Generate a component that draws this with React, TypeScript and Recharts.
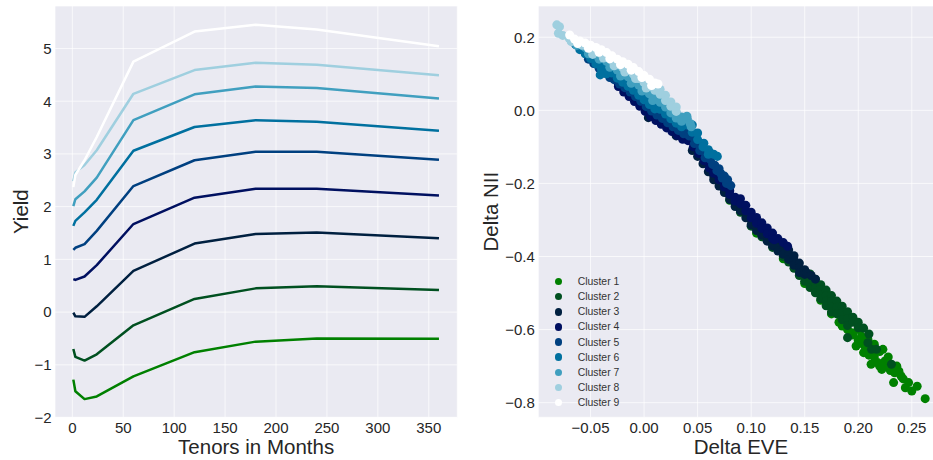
import React from 'react';
import {
  LineChart, Line, XAxis, YAxis, CartesianGrid,
  ScatterChart, Scatter, ZAxis, Legend,
} from 'recharts';

// ---------- Left panel data: yield curves ----------
const tenors = [1, 3, 12, 24, 60, 120, 180, 240, 360];
const curve1 = [-1.28, -1.50, -1.65, -1.60, -1.22, -0.76, -0.56, -0.50, -0.505];
const curve2 = [-0.70, -0.85, -0.92, -0.80, -0.25, 0.25, 0.45, 0.49, 0.42];
const curve3 = [-0.01, -0.08, -0.09, 0.11, 0.78, 1.30, 1.48, 1.51, 1.40];
const curve4 = [0.625, 0.61, 0.675, 0.89, 1.67, 2.17, 2.34, 2.34, 2.21];
const curve5 = [1.18, 1.22, 1.29, 1.54, 2.39, 2.88, 3.04, 3.04, 2.89];
const curve6 = [1.635, 1.73, 1.89, 2.13, 3.06, 3.51, 3.64, 3.61, 3.44];
const curve7 = [2.01, 2.14, 2.29, 2.55, 3.64, 4.13, 4.28, 4.25, 4.05];
const curve8 = [2.48, 2.65, 2.79, 3.07, 4.14, 4.59, 4.73, 4.69, 4.49];
const curve9 = [2.37, 2.60, 2.88, 3.32, 4.75, 5.32, 5.45, 5.36, 5.04];
const curves = [curve1, curve2, curve3, curve4, curve5, curve6, curve7, curve8, curve9];

const leftXTicks = [0, 50, 100, 150, 200, 250, 300, 350];
const leftYTicks = [-2, -1, 0, 1, 2, 3, 4, 5];

// ---------- Right panel data: Delta EVE (x) vs Delta NII (y) ----------
const cluster1 = [
  [0.080, -0.246], [0.105, -0.336], [0.130, -0.406], [0.150, -0.474], [0.165, -0.520], [0.175, -0.557],
  [0.182, -0.580], [0.185, -0.590], [0.190, -0.600], [0.194, -0.609], [0.195, -0.615], [0.198, -0.645],
  [0.200, -0.600], [0.200, -0.630], [0.203, -0.618], [0.205, -0.663], [0.205, -0.640], [0.206, -0.645],
  [0.209, -0.627], [0.210, -0.650], [0.210, -0.670], [0.212, -0.663], [0.212, -0.695], [0.215, -0.640],
  [0.215, -0.675], [0.218, -0.690], [0.220, -0.660], [0.220, -0.700], [0.222, -0.709], [0.223, -0.654],
  [0.225, -0.686], [0.228, -0.700], [0.228, -0.675], [0.230, -0.712], [0.233, -0.745], [0.234, -0.718],
  [0.236, -0.700], [0.238, -0.714], [0.240, -0.727], [0.242, -0.735], [0.244, -0.759], [0.247, -0.745],
  [0.250, -0.768], [0.255, -0.755], [0.2625, -0.789],
];
const cluster2 = [
  [0.090, -0.279], [0.100, -0.317], [0.110, -0.346], [0.120, -0.375],
  [0.130, -0.400], [0.135, -0.415], [0.140, -0.432], [0.145, -0.452], [0.150, -0.468],
  [0.155, -0.448], [0.155, -0.461], [0.155, -0.474], [0.155, -0.485],
  [0.160, -0.462], [0.160, -0.475], [0.160, -0.488], [0.160, -0.499],
  [0.165, -0.477], [0.165, -0.490], [0.165, -0.504], [0.165, -0.516],
  [0.170, -0.492], [0.170, -0.507], [0.170, -0.522], [0.170, -0.535],
  [0.175, -0.507], [0.175, -0.523], [0.175, -0.539], [0.175, -0.552],
  [0.180, -0.522], [0.180, -0.539], [0.180, -0.557],
  [0.185, -0.536], [0.185, -0.555], [0.185, -0.573],
  [0.190, -0.551], [0.190, -0.570], [0.190, -0.589],
  [0.195, -0.566], [0.195, -0.580], [0.200, -0.580], [0.200, -0.595],
  [0.205, -0.596], [0.210, -0.612],
  [0.190, -0.622], [0.209, -0.636], [0.2124, -0.654], [0.217, -0.654], [0.231, -0.695],
];
const cluster3 = [
  [0.004, -0.020], [0.030, -0.070],
  [0.045, -0.110], [0.050, -0.126], [0.055, -0.146], [0.060, -0.168],
  [0.065, -0.180], [0.065, -0.190], [0.070, -0.198], [0.070, -0.207], [0.075, -0.217], [0.075, -0.225],
  [0.080, -0.236], [0.080, -0.244], [0.085, -0.255], [0.085, -0.263],
  [0.090, -0.262], [0.090, -0.275], [0.095, -0.281], [0.095, -0.294], [0.100, -0.300], [0.100, -0.313],
  [0.105, -0.315], [0.105, -0.329], [0.110, -0.329], [0.110, -0.342], [0.115, -0.344], [0.115, -0.358],
  [0.120, -0.357], [0.120, -0.371], [0.125, -0.372], [0.125, -0.385],
  [0.130, -0.368], [0.130, -0.381], [0.130, -0.394], [0.135, -0.382], [0.135, -0.395], [0.135, -0.408],
  [0.140, -0.398], [0.140, -0.411], [0.140, -0.424], [0.145, -0.418], [0.145, -0.431], [0.145, -0.444],
  [0.150, -0.436], [0.150, -0.449], [0.152, -0.445], [0.156, -0.452], [0.160, -0.462],
];
const cluster4 = [
  [-0.024, 0.072], [-0.024, 0.065], [-0.019, 0.060], [-0.019, 0.050], [-0.014, 0.048], [-0.014, 0.038],
  [-0.009, 0.036], [-0.009, 0.024], [-0.004, 0.022], [-0.004, 0.011], [0.001, 0.008], [0.001, -0.003],
  [0.006, -0.005], [0.006, -0.017], [0.011, -0.017], [0.011, -0.028],
  [0.016, -0.026], [0.016, -0.038], [0.021, -0.035], [0.021, -0.048], [0.026, -0.046], [0.026, -0.058],
  [0.031, -0.057], [0.031, -0.068], [0.036, -0.068], [0.036, -0.079],
  [0.041, -0.070], [0.041, -0.083], [0.046, -0.088], [0.046, -0.100], [0.051, -0.106], [0.051, -0.118],
  [0.056, -0.125], [0.056, -0.138], [0.061, -0.145], [0.061, -0.158],
  [0.065, -0.160], [0.065, -0.172], [0.070, -0.180], [0.070, -0.190], [0.075, -0.200], [0.075, -0.210],
  [0.080, -0.220], [0.080, -0.230], [0.085, -0.238], [0.085, -0.248],
  [0.090, -0.242], [0.090, -0.256], [0.095, -0.260], [0.095, -0.275], [0.100, -0.279], [0.100, -0.294],
  [0.105, -0.293], [0.105, -0.309], [0.110, -0.308], [0.110, -0.323], [0.115, -0.322], [0.115, -0.338],
  [0.120, -0.336], [0.120, -0.351], [0.125, -0.351], [0.1216, -0.354], [0.130, -0.362], [0.134, -0.372],
];
const cluster5 = [
  [-0.052, 0.140], [-0.047, 0.128], [-0.042, 0.115], [-0.037, 0.102], [-0.032, 0.090],
  [-0.028, 0.092], [-0.028, 0.084], [-0.023, 0.081], [-0.023, 0.072], [-0.018, 0.070], [-0.018, 0.062],
  [-0.013, 0.059], [-0.013, 0.050], [-0.008, 0.048], [-0.008, 0.038], [-0.003, 0.035], [-0.003, 0.025],
  [0.002, 0.020], [0.002, 0.010], [0.007, 0.008], [0.007, -0.002], [0.012, -0.004], [0.012, -0.013],
  [0.017, -0.012], [0.017, -0.022], [0.022, -0.025], [0.022, -0.034], [0.027, -0.035], [0.027, -0.045],
  [0.032, -0.046], [0.032, -0.055], [0.037, -0.054], [0.037, -0.064],
  [0.042, -0.057], [0.042, -0.070], [0.047, -0.078], [0.047, -0.091], [0.052, -0.096], [0.052, -0.110],
  [0.057, -0.117], [0.057, -0.130],
  [0.062, -0.135], [0.064, -0.148], [0.066, -0.150], [0.068, -0.165], [0.070, -0.160], [0.0715, -0.172],
  [0.073, -0.185], [0.075, -0.180], [0.077, -0.200], [0.078, -0.190], [0.081, -0.206],
];
const cluster6 = [
  [-0.064, 0.180], [-0.060, 0.174], [-0.060, 0.166], [-0.055, 0.164], [-0.055, 0.155], [-0.050, 0.153],
  [-0.050, 0.142], [-0.045, 0.141], [-0.045, 0.127], [-0.040, 0.130], [-0.040, 0.113], [-0.035, 0.118],
  [-0.035, 0.100], [-0.041, 0.097],
  [-0.030, 0.109], [-0.030, 0.102], [-0.025, 0.095], [-0.025, 0.088], [-0.020, 0.084], [-0.020, 0.077],
  [-0.015, 0.074], [-0.015, 0.066], [-0.010, 0.063], [-0.010, 0.055], [-0.005, 0.050], [-0.005, 0.041],
  [0.000, 0.038], [0.000, 0.029], [0.005, 0.026], [0.005, 0.016], [0.010, 0.014], [0.010, 0.004],
  [0.015, 0.018], [0.015, 0.003], [0.020, 0.004], [0.020, -0.010], [0.025, -0.013], [0.025, -0.023],
  [0.030, -0.024], [0.030, -0.035], [0.035, -0.034], [0.035, -0.045],
  [0.040, -0.022], [0.040, -0.040], [0.045, -0.040], [0.045, -0.060], [0.050, -0.062], [0.050, -0.080],
  [0.0558, -0.090], [0.055, -0.100], [0.060, -0.108], [0.0621, -0.117], [0.060, -0.120], [0.065, -0.120],
  [0.0684, -0.126],
];
const cluster7 = [
  [-0.063, 0.178], [-0.060, 0.180], [-0.055, 0.172], [-0.050, 0.163], [-0.045, 0.153], [-0.040, 0.144],
  [-0.035, 0.134], [-0.030, 0.122], [-0.025, 0.110], [-0.020, 0.101], [-0.015, 0.092], [-0.010, 0.081],
  [-0.005, 0.069], [0.000, 0.057], [0.005, 0.045], [0.010, 0.034],
  [-0.052, 0.155], [-0.042, 0.140], [-0.032, 0.118], [-0.022, 0.094], [-0.012, 0.074], [-0.002, 0.053],
  [0.008, 0.027],
  [0.015, 0.037], [0.015, 0.022], [0.020, 0.022], [0.020, 0.009], [0.025, 0.006], [0.025, -0.007],
  [0.030, -0.007], [0.030, -0.021], [0.035, -0.018], [0.035, -0.030],
  [0.040, -0.016], [0.040, -0.024], [0.043, -0.036], [0.044, -0.045],
];
const cluster8 = [
  [-0.0815, 0.234], [-0.079, 0.229], [-0.080, 0.211], [-0.076, 0.205],
  [-0.070, 0.197], [-0.065, 0.191], [-0.060, 0.185], [-0.055, 0.178], [-0.050, 0.170], [-0.045, 0.163],
  [-0.040, 0.155], [-0.035, 0.146], [-0.030, 0.136], [-0.025, 0.125], [-0.020, 0.117], [-0.015, 0.109],
  [-0.010, 0.099], [-0.005, 0.087], [0.000, 0.076], [0.005, 0.065], [0.010, 0.055],
  [-0.068, 0.188], [-0.058, 0.178], [-0.048, 0.153], [-0.038, 0.143], [-0.028, 0.122], [-0.018, 0.105],
  [-0.008, 0.087], [0.002, 0.061],
  [0.012, 0.056], [0.015, 0.057], [0.015, 0.044], [0.020, 0.041], [0.020, 0.027], [0.025, 0.023],
  [0.025, 0.011], [0.030, 0.009], [0.030, -0.003],
];
const cluster9 = [
  [-0.0695, 0.206], [-0.065, 0.195], [-0.060, 0.190], [-0.055, 0.184], [-0.050, 0.178], [-0.045, 0.172],
  [-0.040, 0.166], [-0.035, 0.158], [-0.030, 0.149], [-0.025, 0.140], [-0.020, 0.133], [-0.015, 0.126],
  [-0.010, 0.117], [-0.005, 0.106], [0.000, 0.095], [0.005, 0.085], [0.010, 0.075], [0.013, 0.072],
  [-0.062, 0.183], [-0.052, 0.170], [-0.042, 0.159], [-0.032, 0.141], [-0.022, 0.125], [-0.012, 0.110],
  [-0.002, 0.090], [0.007, 0.068],
];
const clusters = [cluster1, cluster2, cluster3, cluster4, cluster5, cluster6, cluster7, cluster8, cluster9];
const clusterNames = ['Cluster 1', 'Cluster 2', 'Cluster 3', 'Cluster 4', 'Cluster 5', 'Cluster 6', 'Cluster 7', 'Cluster 8', 'Cluster 9'];

const rightXTicks = [-0.05, 0, 0.05, 0.1, 0.15, 0.2, 0.25];
const rightYTicks = [-0.8, -0.6, -0.4, -0.2, 0, 0.2];

// ocean colormap samples
const colors = ['#008000', '#005020', '#002040', '#001060', '#004080', '#00709F', '#409FBF', '#9FCFDF', '#FFFFFF'];

const FONT = "'Liberation Sans', Arial, Helvetica, sans-serif";
const TEXT = '#262626';
const BG = '#EAEAF2';

const lineRows = tenors.map((t, i) => {
  const row: any = { t };
  curves.forEach((c, k) => { row['c' + (k + 1)] = c[i]; });
  return row;
});

const minus = (s: string) => s.replace('-', '\u2212');
const fmt0 = (v: number) => minus(String(Math.round(v)));
const fmt1 = (v: number) => minus((Math.abs(v) < 1e-9 ? 0 : v).toFixed(1));
const fmt2 = (v: number) => minus((Math.abs(v) < 1e-9 ? 0 : v).toFixed(2));

const tickStyle = { fontSize: 15, fill: TEXT, fontFamily: FONT };

const xTitle = (text: string) => (props: any) => {
  const vb = props.viewBox || { x: 0, y: 0, width: 0, height: 0 };
  return (
    <text x={vb.x + vb.width / 2} y={vb.y + vb.height - 6} textAnchor="middle"
      fontSize={20.5} fill={TEXT} fontFamily={FONT}>{text}</text>
  );
};
const yTitle = (text: string) => (props: any) => {
  const vb = props.viewBox || { x: 0, y: 0, width: 0, height: 0 };
  const bx = vb.x + 28.3;
  const cy = vb.y + vb.height / 2;
  return (
    <text transform={`translate(${bx},${cy}) rotate(-90)`} x={0} y={0} textAnchor="middle"
      fontSize={20.5} fill={TEXT} fontFamily={FONT}>{text}</text>
  );
};

const renderLegend = () => (
  <div style={{ position: 'relative', width: 130, height: 140 }}>
    {clusterNames.map((n, i) => (
      <div key={n} style={{ position: 'absolute', left: 0, top: i * 15.1, height: 15.1, display: 'flex', alignItems: 'center', whiteSpace: 'nowrap' }}>
        <span style={{ display: 'inline-block', width: 7.4, height: 7.4, borderRadius: '50%', background: colors[i] }} />
        <span style={{ marginLeft: 15.3, fontSize: 10.4, color: '#333333', fontFamily: FONT, lineHeight: '15px' }}>{n}</span>
      </div>
    ))}
  </div>
);

export default function App() {
  return (
    <div style={{ position: 'absolute', left: 0, top: 0, width: 933, height: 460, overflow: 'hidden', background: '#ffffff' }}>
      <div style={{ position: 'absolute', left: 0, top: 0 }}>
        <LineChart width={470} height={460} data={lineRows} margin={{ top: 6, right: 12.7, bottom: 0, left: 0 }}>
          <CartesianGrid fill={BG} fillOpacity={1} stroke="#FFFFFF" strokeOpacity={0.7} strokeWidth={1} />
          <XAxis dataKey="t" type="number" domain={[-17, 378]} allowDataOverflow ticks={leftXTicks}
            tickFormatter={fmt0} axisLine={false} tickLine={false} tickSize={0} tickMargin={5.5}
            height={42.7} tick={tickStyle} interval={0} label={xTitle('Tenors in Months')} />
          <YAxis type="number" domain={[-1.995, 5.805]} allowDataOverflow ticks={leftYTicks}
            tickFormatter={fmt0} axisLine={false} tickLine={false} tickSize={0} tickMargin={3.5}
            width={55} tick={tickStyle} interval={0} label={yTitle('Yield')} />
          {curves.map((_, k) => (
            <Line key={k} dataKey={'c' + (k + 1)} type="linear" stroke={colors[k]} strokeWidth={2.5}
              dot={false} activeDot={false} isAnimationActive={false} strokeLinejoin="round" />
          ))}
        </LineChart>
      </div>
      <div style={{ position: 'absolute', left: 470, top: 0 }}>
        <ScatterChart width={473.6} height={460} margin={{ top: 6, right: 0, bottom: 0, left: 0 }}>
          <CartesianGrid fill={BG} fillOpacity={1} stroke="#FFFFFF" strokeOpacity={0.7} strokeWidth={1} />
          <XAxis dataKey="x" type="number" domain={[-0.0988, 0.2797]} allowDataOverflow ticks={rightXTicks}
            tickFormatter={fmt2} axisLine={false} tickLine={false} tickSize={0} tickMargin={5.5}
            height={42.7} tick={tickStyle} interval={0} label={xTitle('Delta EVE')} />
          <YAxis dataKey="y" type="number" domain={[-0.840, 0.2855]} allowDataOverflow ticks={rightYTicks}
            tickFormatter={fmt1} axisLine={false} tickLine={false} tickSize={0} tickMargin={3.5}
            width={68.3} tick={tickStyle} interval={0} label={yTitle('Delta NII')} />
          <ZAxis range={[50, 50]} />
          <Legend layout="horizontal" verticalAlign="middle" align="center" content={renderLegend}
            wrapperStyle={{ left: 85, top: 274.15, width: 130, height: 140 }} />
          {clusters.map((c, k) => (
            <Scatter key={k} name={clusterNames[k]} data={c.map(([x, y]) => ({ x, y }))}
              fill={colors[k]} shape="circle" isAnimationActive={false} />
          ))}
        </ScatterChart>
      </div>
    </div>
  );
}
